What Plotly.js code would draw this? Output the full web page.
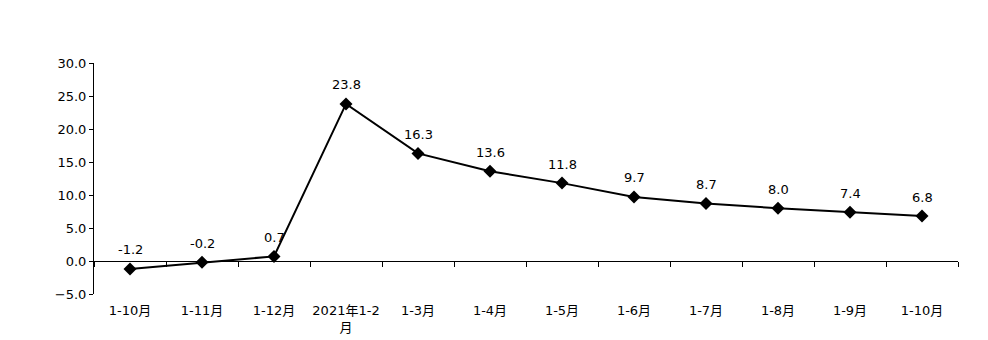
<!DOCTYPE html>
<html><head><meta charset="utf-8">
<script src="https://cdn.plot.ly/plotly-3.0.1.min.js"></script>
<style>html,body{margin:0;padding:0;background:#fff}</style>
</head><body>
<div id="chart" style="width:988px;height:340px"></div>
<script>
const categories = ["1-10月","1-11月","1-12月","2021年1-2<br>月","1-3月","1-4月","1-5月","1-6月","1-7月","1-8月","1-9月","1-10月"];
const values = [-1.2, -0.2, 0.7, 23.8, 16.3, 13.6, 11.8, 9.7, 8.7, 8.0, 7.4, 6.8];
const idx = categories.map((c, i) => i);
const font = "DejaVu Sans, Noto Sans CJK SC, sans-serif";

const labels = idx.map(i => ({
  x: i, y: values[i], xref: "x", yref: "y",
  text: values[i].toFixed(1), showarrow: false,
  yshift: 19, font: {family: font, size: 13, color: "#000"}
}));

Plotly.newPlot("chart", [{
  type: "scatter", mode: "lines+markers",
  x: idx, y: values,
  line: {color: "#000", width: 2},
  marker: {symbol: "diamond", size: 10, color: "#000"},
  cliponaxis: false,
  hoverinfo: "skip"
}], {
  width: 988, height: 340,
  margin: {l: 94, r: 30, t: 63, b: 46},
  paper_bgcolor: "#fff", plot_bgcolor: "#fff",
  showlegend: false,
  font: {family: font, size: 13, color: "#000"},
  annotations: labels,
  xaxis: {
    type: "category", tickmode: "array", tickvals: idx, ticktext: categories,
    tickson: "boundaries", ticks: "outside", ticklen: 5, tickcolor: "#000", tickwidth: 1,
    tickangle: 0,
    showline: true, linecolor: "#000", linewidth: 1,
    anchor: "free", position: 5/35,
    ticklabelstandoff: 37,
    showgrid: false, zeroline: false,
    range: [-0.5, 11.5],
    tickfont: {family: font, size: 13, color: "#000"}
  },
  yaxis: {
    range: [-5, 30], dtick: 5, tick0: 0, tickformat: ".1f",
    ticks: "outside", ticklen: 4, tickcolor: "#000",
    showline: true, linecolor: "#000", linewidth: 1,
    showgrid: false, zeroline: false,
    tickfont: {family: font, size: 13, color: "#000"}
  }
}, {displayModeBar: false, staticPlot: true});
</script>
</body></html>
